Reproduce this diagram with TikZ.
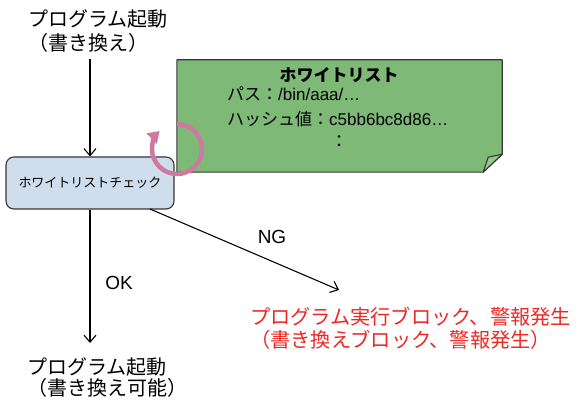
\documentclass[tikz,border=0pt]{standalone}
\usepackage{fontspec}
\setmainfont{Noto Sans CJK JP}
\newfontfamily\lat{Liberation Sans}
\usetikzlibrary{arrows.meta,calc}
\definecolor{notegreen}{RGB}{126,185,120}
\definecolor{foldgreen}{RGB}{150,200,140}
\definecolor{boxblue}{RGB}{207,221,237}
\definecolor{edgegray}{RGB}{55,55,55}
\definecolor{arcpink}{RGB}{204,122,160}
\definecolor{alertred}{RGB}{236,40,36}
\begin{document}
\begin{tikzpicture}[x=1pt,y=-1pt,
  arr/.style={draw=black, line width=1.1pt, -{Straight Barb[length=7pt,width=12pt]}},
  lbl/.style={inner sep=0pt, align=left, anchor=west},
  latlbl/.style={inner sep=0pt, font=\lat\fontsize{19}{22}\selectfont},
  chkbox/.style={draw=edgegray, line width=1.1pt, fill=boxblue, rounded corners=8pt,
    minimum width=168pt, minimum height=52pt, inner sep=0pt, font=\fontsize{13}{15}\selectfont},
  notebody/.style={fill=notegreen, draw=edgegray, line width=1.1pt, line join=round},
  pinkarc/.style={draw=arcpink, line width=4.5pt, -{Triangle[length=11pt,width=14pt]}}
]
\useasboundingbox (0,0) rectangle (579,406);

% texts
\node[lbl, font=\fontsize{20}{24}\selectfont] (top) at (28,31) {プログラム起動\\（書き換え）};
\node[chkbox] (chk) at (90,183) {ホワイトリストチェック};
\node[lbl, font=\fontsize{20}{21}\selectfont] (bot) at (27,377.5) {プログラム起動\\（書き換え可能）};
\node[lbl, font=\fontsize{20.2}{23}\selectfont, text=alertred] (res) at (250,328.5) {プログラム実行ブロック、警報発生\\（書き換えブロック、警報発生）};

% white list note
\node[minimum width=325pt, minimum height=112pt, inner sep=0pt] (wl) at (339.5,116) {};
\path[notebody] (wl.north west) -- (wl.north east) -- ($(wl.south east)+(0,-18)$)
  -- ($(wl.south east)+(-19,0)$) -- (wl.south west) -- cycle;
\path[notebody, fill=foldgreen] ($(wl.south east)+(-19,0)$) -- ($(wl.south east)+(0,-18)$)
  -- ($(wl.south east)+(-14,-15)$) -- cycle;
\node[inner sep=0pt, font=\bfseries\fontsize{17}{20}\selectfont] (title) at (339,75) {ホワイトリスト};
\node[lbl, font=\fontsize{17}{25}\selectfont] (body) at (227,106.5) {パス：{\lat /bin/aaa/…}\\ハッシュ値：{\lat c5bb6bc8d86…}};
\node[inner sep=0pt, font=\fontsize{17}{20}\selectfont] (dots) at (339,142) {：};

% connectors
\coordinate (s1) at (90,59);
\coordinate (e2) at (90,343);
\coordinate (s3) at (150,209);
\coordinate (e3) at (339,290);
\draw[arr] (s1) -- (chk);
\draw[arr] (chk) -- (e2);
\draw[arr] (s3) -- (e3);
\node[latlbl] (ok) at (119,283) {OK};
\node[latlbl] (ng) at (272,237) {NG};

% circular arrow
\draw[pinkarc] (177,124) arc[start angle=-90, end angle=226, radius=25];
\end{tikzpicture}
\end{document}
